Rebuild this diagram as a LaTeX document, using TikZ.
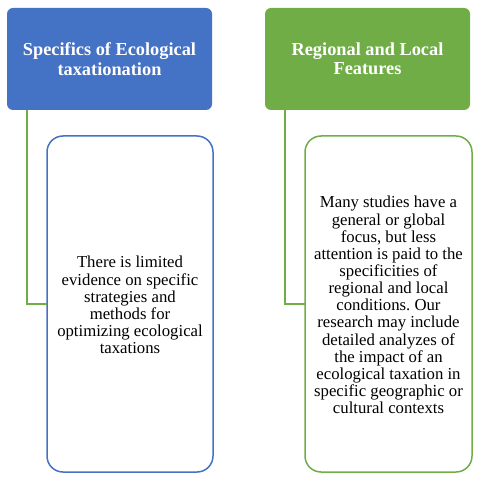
\documentclass[tikz,border=0pt]{standalone}
\usepackage{fontspec}
\setmainfont{Liberation Serif}
\definecolor{hblue}{HTML}{4472C4}
\definecolor{hgreen}{HTML}{70AD47}
\frenchspacing
\begin{document}
\begin{tikzpicture}[x=1bp,y=-1bp,
  htext/.style={text=white,font=\fontsize{18.4}{19.5}\selectfont\bfseries,align=center,inner sep=0pt},
  ctext/.style={font=\fontsize{16.8}{17.2}\selectfont,align=center,inner sep=0pt},
  child/.style={rounded corners=16bp,line width=1.5bp,fill=white},
  conn/.style={draw=hgreen,line width=2bp}]
\useasboundingbox (0,0) rectangle (483,481);
% left
\path[fill=hblue,rounded corners=6bp] (7,8) rectangle (212,110);
\node[htext] (h1) at (109.5,59) {Specifics of Ecological\\taxationation};
\coordinate (h1b) at (27,110);
\draw[child,draw=hblue] (47,136) rectangle (213,472);
\node[ctext] (c1) at (130,305) {There is limited\\evidence on specific\\strategies and\\methods for\\optimizing ecological\\taxations};
\coordinate (c1l) at (47,304);
\draw[conn] (h1b) |- (c1l);
% right
\path[fill=hgreen,rounded corners=6bp] (265,8) rectangle (470,110);
\node[htext] (h2) at (367.5,59) {Regional and Local\\Features};
\coordinate (h2b) at (285,110);
\draw[child,draw=hgreen] (305,136) rectangle (472,472);
\node[ctext] (c2) at (388.5,305) {Many studies have a\\general or global\\focus, but less\\attention is paid to the\\specificities of\\regional and local\\conditions. Our\\research may include\\detailed analyzes of\\the impact of an\\ecological taxation in\\specific geographic or\\cultural contexts};
\coordinate (c2l) at (305,304);
\draw[conn] (h2b) |- (c2l);
\end{tikzpicture}
\end{document}
